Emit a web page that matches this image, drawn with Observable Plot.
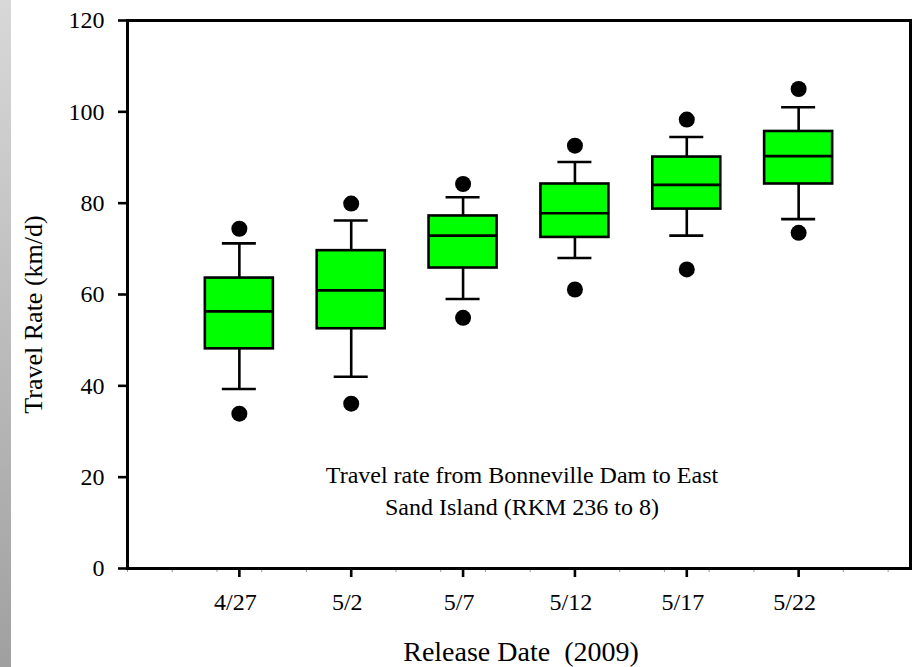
<!DOCTYPE html>
<html>
<head>
<meta charset="utf-8">
<script src="https://cdn.jsdelivr.net/npm/d3@7"></script>
<script src="https://cdn.jsdelivr.net/npm/@observablehq/plot@0.6"></script>
<style>
  html, body { margin: 0; padding: 0; background: #fff; }
  #wrap { position: relative; width: 913px; height: 667px; overflow: hidden; }
  #strip { position: absolute; left: 0; top: 0; width: 11px; height: 667px;
           background: linear-gradient(to bottom, #d8d8d8, #a0a0a0); pointer-events: none; }
</style>
</head>
<body>
<div id="wrap"><div id="strip"></div></div>
<script>
// Release dates (day of year, 2009) and their labels
const releaseDays = [117, 122, 127, 132, 137, 142];
const releaseLabels = ["4/27", "5/2", "5/7", "5/12", "5/17", "5/22"];
// Box-plot statistics, travel rate (km/d)
const whiskerLo = [39.3, 42.0, 59.0, 68.0, 72.9, 76.5];
const q1        = [48.1, 52.5, 65.8, 72.5, 78.7, 84.2];
const median    = [56.3, 60.9, 72.9, 77.8, 84.0, 90.3];
const q3        = [63.6, 69.6, 77.2, 84.2, 90.1, 95.7];
const whiskerHi = [71.2, 76.2, 81.3, 89.0, 94.5, 101.0];
const outlierLo = [33.9, 36.1, 54.9, 61.1, 65.5, 73.5];
const outlierHi = [74.4, 79.9, 84.2, 92.6, 98.3, 105.0];
// Axis ticks
const yTicks = [0, 20, 40, 60, 80, 100, 120];
const minorDays = [112, 114, 116, 118, 120, 122, 124, 126, 128, 130, 132, 134, 136, 138, 140, 142, 144, 146];
const xDomain = [112, 147];

const boxes = releaseDays.map((day, i) => ({
  day, label: releaseLabels[i],
  lo: whiskerLo[i], q1: q1[i], med: median[i], q3: q3[i], hi: whiskerHi[i],
  outLo: outlierLo[i], outHi: outlierHi[i]
}));
const outliers = boxes.flatMap(b => [{day: b.day, v: b.outLo}, {day: b.day, v: b.outHi}]);

const boxHalf = 1.52;  // days
const capHalf = 0.76;  // days

const chart = Plot.plot({
  width: 913,
  height: 667,
  marginLeft: 127,
  marginRight: 3,
  marginTop: 20,
  marginBottom: 99,
  style: {fontFamily: "'Liberation Serif', 'Times New Roman', serif", fontSize: "24px", color: "black", background: "transparent"},
  x: {type: "linear", domain: xDomain},
  y: {domain: [0, 120]},
  marks: [
    // minor x ticks
    Plot.axisX({ticks: minorDays, tickSize: 4, stroke: "#9a9a9a", strokeWidth: 1, tickFormat: () => "", label: null}),
    // major x ticks
    Plot.axisX({ticks: releaseDays, tickSize: 9, strokeWidth: 2.6, tickFormat: () => "", label: null}),
    Plot.text(boxes, {x: "day", text: "label", frameAnchor: "bottom", lineAnchor: "top", dy: 24, dx: -4, fontSize: 24}),
    // y axis
    Plot.axisY({ticks: yTicks, tickSize: 9, tickPadding: 14, strokeWidth: 2.6, label: null}),
    // whiskers
    Plot.ruleX(boxes, {x: "day", y1: "lo", y2: "hi", strokeWidth: 2.6}),
    Plot.ruleY(boxes, {y: "hi", x1: d => d.day - capHalf, x2: d => d.day + capHalf, strokeWidth: 2.6}),
    Plot.ruleY(boxes, {y: "lo", x1: d => d.day - capHalf, x2: d => d.day + capHalf, strokeWidth: 2.6}),
    // boxes
    Plot.rect(boxes, {x1: d => d.day - boxHalf, x2: d => d.day + boxHalf, y1: "q1", y2: "q3",
                      fill: "#00ff00", stroke: "black", strokeWidth: 2.6}),
    Plot.ruleY(boxes, {y: "med", x1: d => d.day - boxHalf, x2: d => d.day + boxHalf, strokeWidth: 2.6}),
    // outliers
    Plot.dot(outliers, {x: "day", y: "v", r: 8, fill: "black", stroke: "none"}),
    // frame
    Plot.frame({stroke: "black", strokeWidth: 3}),
    // annotation
    Plot.text(["Travel rate from Bonneville Dam to East\nSand Island (RKM 236 to 8)"],
              {frameAnchor: "bottom", textAnchor: "middle", lineAnchor: "top", dx: 3, dy: -109, lineHeight: 1.354, fontSize: 24}),
    // axis titles
    Plot.text(["Release Date\u00a0 (2009)"], {frameAnchor: "bottom", textAnchor: "middle", lineAnchor: "middle", dy: 84, dx: 2, fontSize: 28}),
    Plot.text(["Travel Rate (km/d)"], {frameAnchor: "left", textAnchor: "middle", lineAnchor: "middle", rotate: -90, dx: -94, dy: 20, fontSize: 26})
  ]
});
document.getElementById("wrap").insertBefore(chart, document.getElementById("strip"));
</script>
</body>
</html>
